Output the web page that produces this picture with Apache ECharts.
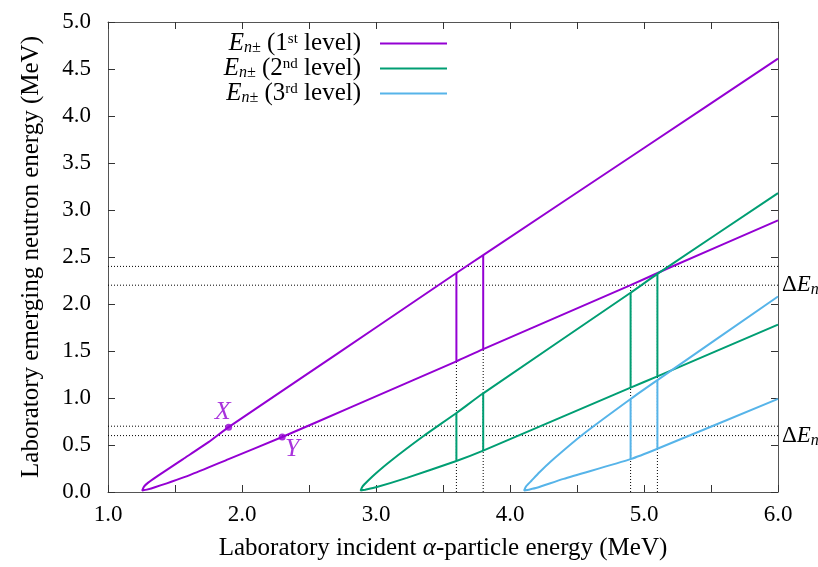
<!DOCTYPE html>
<html>
<head>
<meta charset="utf-8">
<script src="https://cdn.jsdelivr.net/npm/echarts@6/dist/echarts.min.js"></script>
<style>
  html, body { margin: 0; padding: 0; background: #fff; }
  #chart { width: 818px; height: 567px; }
</style>
</head>
<body>
<div id="chart"></div>
<script>
// kinematic curves: [incident energy, neutron energy]
const lvl1Upper = [[1.255, 0.015], [1.27, 0.06], [1.30, 0.10], [1.38, 0.18], [1.56, 0.35], [1.75, 0.53], [1.90, 0.69], [2.43, 1.20], [3.00, 1.75], [3.60, 2.33], [3.80, 2.52], [5.00, 3.66], [6.00, 4.61]];
const lvl1Lower = [[1.255, 0.015], [1.29, 0.025], [1.35, 0.05], [1.61, 0.18], [1.90, 0.35], [2.30, 0.585], [2.81, 0.90], [3.60, 1.39], [3.80, 1.52], [4.90, 2.20], [5.18, 2.38], [6.00, 2.89]];
const lvl2Upper = [[2.885, 0.015], [2.90, 0.06], [2.94, 0.12], [3.00, 0.20], [3.10, 0.32], [3.35, 0.59], [3.60, 0.84], [3.80, 1.05], [4.90, 2.12], [5.10, 2.32], [6.00, 3.18]];
const lvl2Lower = [[2.885, 0.015], [2.92, 0.025], [3.00, 0.05], [3.23, 0.15], [3.60, 0.33], [3.80, 0.44], [4.90, 1.11], [5.10, 1.23], [6.00, 1.78]];
const lvl3Upper = [[4.105, 0.015], [4.12, 0.06], [4.16, 0.12], [4.22, 0.21], [4.30, 0.32], [4.55, 0.62], [4.90, 0.99], [5.10, 1.19], [6.00, 2.08]];
const lvl3Lower = [[4.105, 0.015], [4.14, 0.025], [4.20, 0.045], [4.40, 0.14], [4.90, 0.35], [5.10, 0.46], [6.00, 0.99]];

// vertical bars between the branches: [x, bottom, top]
const lvl1Bars = [[3.6, 1.39, 2.33], [3.8, 1.52, 2.52]];
const lvl2Bars = [[3.6, 0.33, 0.84], [3.8, 0.44, 1.05], [4.9, 1.11, 2.12], [5.1, 1.23, 2.32]];
const lvl3Bars = [[4.9, 0.35, 0.99], [5.1, 0.46, 1.19]];

// dotted guide lines
const guideY = [2.4, 2.2, 0.7, 0.6];
const labelledY = [2.2, 0.6];
const guideX = [[3.6, 1.39], [3.8, 1.52], [4.9, 2.20], [5.1, 2.33]];

const pointX = [1.90, 0.69];
const pointY = [2.30, 0.585];

const colors = ['#9400d3', '#009e73', '#56b4e9'];
const levelNames = ['1st', '2nd', '3rd'];
const levelSup = { '1st': ['1', 'st'], '2nd': ['2', 'nd'], '3rd': ['3', 'rd'] };
const font = 'Liberation Serif';

const myChart = echarts.init(document.getElementById('chart'));

const loop = (upper, lower) => upper.slice().reverse().concat(lower.slice(1));

const series = [];

guideY.forEach(y => {
    const labelled = labelledY.indexOf(y) >= 0;
    series.push({
        type: 'line', silent: true, symbol: 'none', z: 1,
        data: [[1, y], [6, y]],
        lineStyle: { color: '#000', width: 1, type: [1, 2] },
        endLabel: labelled ? {
            show: true, distance: 4,
            formatter: '{d|\u0394}{e|E}{s|n}',
            rich: {
                d: { fontFamily: font, fontSize: 23, color: '#000' },
                e: { fontFamily: font, fontSize: 23, fontStyle: 'italic', color: '#000' },
                s: { fontFamily: font, fontSize: 16, fontStyle: 'italic', color: '#000', padding: [10, 0, 0, 0] },
            },
        } : { show: false },
    });
});

guideX.forEach(([x, top]) => {
    series.push({
        type: 'line', silent: true, symbol: 'none', z: 1,
        data: [[x, 0], [x, top]],
        lineStyle: { color: '#000', width: 1, type: [1, 2] },
    });
});

const curves = [[lvl1Upper, lvl1Lower], [lvl2Upper, lvl2Lower], [lvl3Upper, lvl3Lower]];
const bars = [lvl1Bars, lvl2Bars, lvl3Bars];

curves.forEach(([up, lo], i) => {
    series.push({
        name: levelNames[i], type: 'line', symbol: 'none', z: 3,
        smooth: 0.2,
        data: loop(up, lo),
        lineStyle: { color: colors[i], width: 2 },
        itemStyle: { color: colors[i] },
    });
    bars[i].forEach(([x, b, t]) => {
        series.push({
            type: 'line', symbol: 'none', z: 3, silent: true,
            data: [[x, b], [x, t]],
            lineStyle: { color: colors[i], width: 2 },
        });
    });
});

const ptLabel = {
    show: true, fontFamily: font, fontSize: 26, fontStyle: 'italic', color: colors[0],
};
series.push({
    type: 'scatter', symbolSize: 7, z: 4,
    itemStyle: { color: colors[0] },
    data: [
        { value: pointX, label: Object.assign({}, ptLabel, { formatter: 'X', position: 'top', offset: [-6, 7] }) },
        { value: pointY, label: Object.assign({}, ptLabel, { formatter: 'Y', position: 'bottom', offset: [10, -9] }) },
    ],
});

const legends = levelNames.map((name, i) => ({
    data: [name],
    right: 371, top: 31 + i * 25, padding: 0,
    align: 'right', itemWidth: 67, itemHeight: 2, itemGap: 0,
    icon: 'rect', selectedMode: false,
    formatter: n => '{e|E}{s|n\u00b1} ({t|' + levelSup[n][0] + '}{p|' + levelSup[n][1] + '} level)',
    textStyle: {
        padding: [0, 14, 0, 0],
        rich: {
            e: { fontFamily: font, fontSize: 25, fontStyle: 'italic', color: '#000' },
            s: { fontFamily: font, fontSize: 16, fontStyle: 'italic', color: '#000', padding: [9, 0, 0, 0] },
            t: { fontFamily: font, fontSize: 25, color: '#000' },
            p: { fontFamily: font, fontSize: 15, color: '#000', padding: [0, 0, 9, 0] },
        },
        fontFamily: font, fontSize: 25, color: '#000',
    },
}));

const axisCommon = {
    type: 'value',
    axisLine: { show: true, onZero: false, lineStyle: { color: '#555', width: 1 } },
    axisTick: { show: true, inside: true, length: 7, lineStyle: { color: '#333' } },
    splitLine: { show: false },
};

const option = {
    animation: false,
    grid: { left: 108, top: 22, right: 40, bottom: 75 },
    legend: legends,
    xAxis: [
        Object.assign({}, axisCommon, {
            min: 1, max: 6, interval: 0.5, position: 'bottom',
            name: 'Laboratory incident {a|\u03b1}-particle energy (MeV)',
            nameLocation: 'middle', nameGap: 44,
            nameTextStyle: {
                fontFamily: font, fontSize: 25, color: '#000',
                rich: { a: { fontFamily: font, fontSize: 25, fontStyle: 'italic', color: '#000' } },
            },
            axisLabel: {
                fontFamily: font, fontSize: 23, color: '#000', margin: 11,
                formatter: v => (Math.abs(v - Math.round(v)) < 1e-6 ? v.toFixed(1) : ''),
            },
        }),
        Object.assign({}, axisCommon, {
            min: 1, max: 6, interval: 0.5, position: 'top',
            axisLabel: { show: false },
        }),
    ],
    yAxis: [
        Object.assign({}, axisCommon, {
            min: 0, max: 5, interval: 0.5, position: 'left',
            name: 'Laboratory emerging neutron energy (MeV)',
            nameLocation: 'middle', nameGap: 64,
            nameTextStyle: { fontFamily: font, fontSize: 25, color: '#000' },
            axisLabel: {
                fontFamily: font, fontSize: 23, color: '#000', margin: 17,
                formatter: v => v.toFixed(1),
            },
        }),
        Object.assign({}, axisCommon, {
            min: 0, max: 5, interval: 0.5, position: 'right',
            axisLabel: { show: false },
        }),
    ],
    series: series,
};
myChart.setOption(option);
</script>
</body>
</html>
